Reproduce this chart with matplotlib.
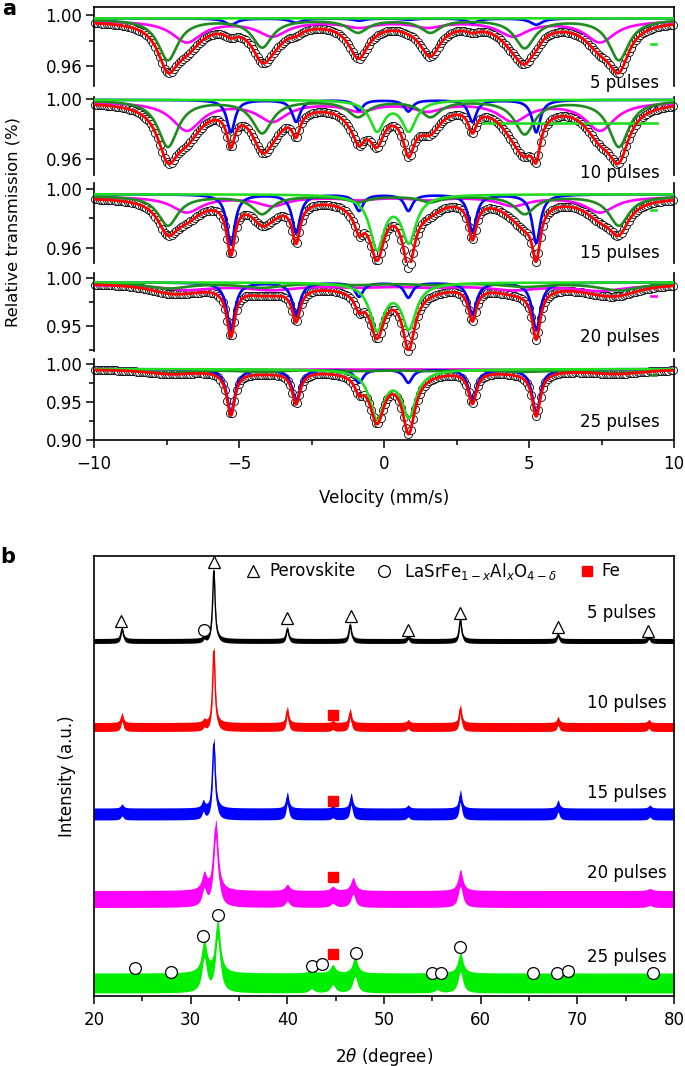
"""
plot.py

Moessbauer spectra (a) and XRD patterns (b) after different pulse counts.
"""

import matplotlib
matplotlib.use("Agg")
import matplotlib.pyplot as plt
import numpy as np

plt.rcParams["font.family"] = ["DejaVu Sans"]
plt.rcParams["mathtext.fontset"] = "dejavusans"

FS = 12

# ---------------- panel a: line positions / depths ----------
PULSES = ["5 pulses", "10 pulses", "15 pulses", "20 pulses", "25 pulses"]

# sextet / doublet line positions (mm/s)
DG_POS = [-7.45, -4.2, -0.9, 1.6, 4.85, 8.1]      # dark green sextet
MG_POS = [-6.8, -3.85, -0.85, 1.5, 4.45, 7.45]    # magenta sextet
BL_POS = [-5.28, -3.03, -0.86, 0.84, 3.05, 5.25]  # blue sextet (alpha-Fe)
LG_POS = [-0.24, 0.86]                            # light green doublet
EX_POS = [-0.86, 1.6]                             # extra absorption in total fit

# line depths per spectrum
DG_DEPTH = [
    [0.032, 0.0217, 0.010, 0.010, 0.0223, 0.032],
    [0.031, 0.0216, 0.0107, 0.0107, 0.0223, 0.031],
    [0.020, 0.012, 0.004, 0.004, 0.012, 0.020],
    [0.006, 0.005, 0.002, 0.002, 0.004, 0.008],
    [0.005, 0.003, 0.002, 0.002, 0.003, 0.005],
]
MG_DEPTH = [
    [0.0166, 0.0116, 0.0046, 0.0046, 0.0116, 0.0166],
    [0.0188, 0.0124, 0.0055, 0.0055, 0.0124, 0.0188],
    [0.0105, 0.006, 0.002, 0.002, 0.006, 0.0105],
    [0.005, 0.005, 0.002, 0.002, 0.005, 0.006],
    [0.001, 0.001, 0.0005, 0.0005, 0.001, 0.001],
]
BL_DEPTH = [
    [0.005, 0.0034, 0.0018, 0.001, 0.0034, 0.005],
    [0.0216, 0.0146, 0.0067, 0.0076, 0.0146, 0.0216],
    [0.034, 0.026, 0.011, 0.011, 0.025, 0.033],
    [0.049, 0.033, 0.0145, 0.0155, 0.0335, 0.0495],
    [0.0574, 0.042, 0.0176, 0.0176, 0.0414, 0.0574],
]
LG_DEPTH = [[0.0, 0.0], [0.020, 0.020], [0.036, 0.031], [0.048, 0.046], [0.0634, 0.0604]]
EX_DEPTH = [[0.011, 0.011], [0.0, 0.0], [0.0, 0.0], [0.0, 0.0], [0.0, 0.0]]

# half widths (mm/s)
DG_HW = [0.42, 0.42, 0.42, 0.9, 1.0]
MG_HW = [0.62, 0.62, 0.62, 1.0, 1.0]
BL_HW = [0.25, 0.17, 0.17, 0.17, 0.17]
LG_HW = [0.3, 0.3, 0.3, 0.3, 0.3]

# baselines
BASE_TOT = [0.9955, 0.9984, 0.9941, 0.9948, 0.9934]
BASE_DG = [0.9969, 0.9996, 0.9952, 0.9955, 0.9934]
BASE_MG = [0.9956, 0.9984, 0.9947, 0.9931, 0.9934]
BASE_BL = [0.9974, 0.9996, 0.9963, 0.9955, 0.9934]
BASE_LG = [0.9974, 0.9996, 0.9963, 0.9955, 0.9934]

# little dashes at the right edge (x0, x1, y, colour)
DASH = [
    (9.22, 9.38, 0.977, "#22dd22"),
    (3.40, 9.41, 0.984, "#22dd22"),
    (9.22, 9.38, 0.9856, "#22dd22"),
    (9.22, 9.38, 0.9814, "#ff00ff"),
    (9.22, 9.38, 0.9859, "#1e8c1e"),
]

YLIMS = [(0.9443, 1.0063), (0.9495, 1.0015), (0.9498, 1.0039), (0.9244, 1.0052), (0.90, 1.0066)]
YMAJOR = [[0.96, 1.00], [0.96, 1.00], [0.96, 1.00], [0.95, 1.00], [0.90, 0.95, 1.00]]
YMINOR = [[0.98], [0.98], [0.98], [0.925, 0.975], [0.925, 0.975]]

# ---------------- panel b: XRD peaks (2theta, height) ----------------
XRD_NAMES = ["5 pulses", "10 pulses", "15 pulses", "20 pulses", "25 pulses"]
XRD_COLORS = ["black", "#ff0000", "#0000ff", "#ff00ff", "#00ee00"]
XRD_BASE = [355, 269, 182, 97, 13]
XRD_NOISE = [2.5, 4.5, 6, 8.5, 10]
XRD_PEAKS = [
    [(22.9, 12), (31.4, 3), (32.4, 70), (40.0, 12), (46.5, 16), (52.5, 4), (57.9, 21), (68.0, 6), (77.4, 4)],
    [(22.9, 10), (31.4, 3), (32.4, 76), (40.0, 16), (44.7, 2), (46.5, 14), (52.5, 3), (57.9, 18), (68.0, 6), (77.4, 3)],
    [(22.9, 4), (31.3, 7), (32.4, 70), (40.0, 16), (44.7, 2), (46.6, 15), (52.5, 3), (57.9, 18), (68.0, 8), (77.5, 3)],
    [(31.4, 16), (32.6, 70), (40.0, 6), (44.7, 4), (46.8, 13), (57.9, 21), (77.5, 2)],
    [(31.4, 33), (32.8, 53), (42.5, 4), (44.7, 8), (47.0, 16), (55.5, 3), (57.9, 21)],
]
XRD_HW = [0.15, 0.15, 0.17, 0.28, 0.3]

TRI_X = [22.8, 32.4, 40.0, 46.6, 52.5, 57.9, 68.0, 77.3]
TRI_Y = [375, 434, 378, 380, 366, 383, 369, 365]
CIRC_X = [31.4, 24.2, 28.0, 31.3, 32.8, 42.6, 43.6, 47.1, 55.0, 55.9, 57.9, 65.4, 67.9, 69.0, 77.8]
CIRC_Y = [366, 28, 24, 60, 81, 30, 32, 43, 23, 23, 49, 23, 23, 25, 23]
FE_X = [44.7, 44.7, 44.7, 44.7]
FE_Y = [281, 195, 119, 42]
XRD_LABEL_X = [78.2, 79.2, 79.2, 79.2, 79.2]
XRD_LABEL_Y = [383, 293, 203, 123, 39]

W, H = 685, 1066


def rect(left, top, right, bottom):
    return [left / W, 1 - bottom / H, (right - left) / W, (bottom - top) / H]


def lorentz_dip(v, pos, depth, hw):
    out = np.zeros_like(v)
    for p, d in zip(pos, depth):
        out += d * hw ** 2 / ((v - p) ** 2 + hw ** 2)
    return out


fig = plt.figure(figsize=(6.85, 10.66), dpi=100)

# ---------------- panel a ----------------
AX_TOP = [7, 97, 183, 273, 359]
AX_BOT = [86, 175, 263, 351, 440]
LABEL_PX = [83, 173, 253, 337, 422]

v = np.linspace(-10, 10, 1201)
v_pts = np.arange(-9.96, 10.0, 0.08)

for i in range(5):
    ax = fig.add_axes(rect(94, AX_TOP[i], 674, AX_BOT[i]))
    dg = lorentz_dip(v, DG_POS, DG_DEPTH[i], DG_HW[i])
    mg = lorentz_dip(v, MG_POS, MG_DEPTH[i], MG_HW[i])
    bl = lorentz_dip(v, BL_POS, BL_DEPTH[i], BL_HW[i])
    lg = lorentz_dip(v, LG_POS, LG_DEPTH[i], LG_HW[i])
    ex = lorentz_dip(v, EX_POS, EX_DEPTH[i], 0.4)
    total = BASE_TOT[i] - dg - mg - bl - lg - ex
    pts = np.interp(v_pts, v, total)

    ax.plot(v_pts, pts, "o", ms=5.8, mfc="white", mec="black", mew=0.6, zorder=2, clip_on=False)
    ax.plot(v, BASE_MG[i] - mg, color="#ff00ff", lw=1.9, zorder=3)
    ax.plot(v, BASE_BL[i] - bl, color="#0000ff", lw=1.9, zorder=3)
    ax.plot(v, BASE_DG[i] - dg, color="#1e8c1e", lw=1.9, zorder=3)
    ax.plot(v, BASE_LG[i] - lg, color="#22dd22", lw=1.9, zorder=3)
    ax.plot(v, total, color="#ff0000", lw=2.0, zorder=4)
    x0, x1, yd, cd = DASH[i]
    ax.plot([x0, x1], [yd, yd], color=cd, lw=1.9, zorder=3)

    ax.set_xlim(-10, 10)
    ax.set_ylim(*YLIMS[i])
    ax.set_yticks(YMAJOR[i])
    ax.set_yticks(YMINOR[i], minor=True)
    ax.set_yticklabels([f"{t:.2f}" for t in YMAJOR[i]])
    ax.tick_params(axis="y", which="major", direction="out", length=6, width=1.1, labelsize=FS, pad=2.5)
    ax.tick_params(axis="y", which="minor", direction="out", length=3.5, width=1.1)
    for s in ax.spines.values():
        s.set_linewidth(1.2)
    if i > 0:
        ax.spines["top"].set_visible(False)
    frac = (AX_BOT[i] - LABEL_PX[i]) / (AX_BOT[i] - AX_TOP[i])
    ax.text(0.975, frac, PULSES[i], transform=ax.transAxes, ha="right", va="center", fontsize=FS, zorder=6)
    if i < 4:
        ax.spines["bottom"].set_visible(False)
        ax.set_xticks([])
    else:
        ax.set_xticks([-10, -5, 0, 5, 10])
        ax.set_xticks([-7.5, -2.5, 2.5, 7.5], minor=True)
        ax.set_xticklabels(["\u221210", "\u22125", "0", "5", "10"])
        ax.tick_params(axis="x", which="major", direction="out", length=6, width=1.1, labelsize=FS, pad=5)
        ax.tick_params(axis="x", which="minor", direction="out", length=3.5, width=1.1)

fig.text(384 / W, 1 - 498 / H, "Velocity (mm/s)", ha="center", va="center", fontsize=FS)
fig.text(13 / W, 1 - 222 / H, "Relative transmission (%)", rotation=90, ha="center", va="center", fontsize=11.8)
fig.text(9 / W, 1 - 9 / H, "a", fontsize=15, fontweight="bold", ha="center", va="center")

# ---------------- panel b ----------------
axb = fig.add_axes(rect(94, 556, 674, 996))
tt = np.linspace(20, 80, 3001)
for i in range(5):
    y = np.full_like(tt, float(XRD_BASE[i]))
    for pos, hgt in XRD_PEAKS[i]:
        y += hgt * XRD_HW[i] ** 2 / ((tt - pos) ** 2 + XRD_HW[i] ** 2)
    axb.fill_between(tt, y - XRD_NOISE[i], y + XRD_NOISE[i], color=XRD_COLORS[i], lw=0, zorder=2)
    axb.plot(tt, y, color=XRD_COLORS[i], lw=1.0, zorder=2)
    axb.text(XRD_LABEL_X[i], XRD_LABEL_Y[i], XRD_NAMES[i], ha="right", va="center", fontsize=FS)

axb.plot(TRI_X, TRI_Y, "^", ms=9, mfc="white", mec="black", mew=0.9, ls="none", zorder=4)
axb.plot(CIRC_X, CIRC_Y, "o", ms=8.5, mfc="white", mec="black", mew=0.9, ls="none", zorder=4)
axb.plot(FE_X, FE_Y, "s", ms=7.5, color="#ff0000", ls="none", zorder=4)

# legend row
axb.plot([36.4], [425], "^", ms=9, mfc="white", mec="black", mew=0.9)
axb.text(38.1, 425, "Perovskite", va="center", ha="left", fontsize=FS)
axb.plot([50.0], [425], "o", ms=8.5, mfc="white", mec="black", mew=0.9)
axb.text(52.1, 425, r"LaSrFe$_{1-x}$Al$_{x}$O$_{4-\delta}$", va="center", ha="left", fontsize=FS)
axb.plot([71.0], [425], "s", ms=7.5, color="#ff0000")
axb.text(72.5, 425, "Fe", va="center", ha="left", fontsize=FS)

axb.set_xlim(20, 80)
axb.set_ylim(0, 440)
axb.set_yticks([])
axb.set_xticks([20, 30, 40, 50, 60, 70, 80])
axb.set_xticks([25, 35, 45, 55, 65, 75], minor=True)
axb.tick_params(axis="x", which="major", direction="out", length=6, width=1.1, labelsize=FS, pad=5)
axb.tick_params(axis="x", which="minor", direction="out", length=3.5, width=1.1)
for s in axb.spines.values():
    s.set_linewidth(1.2)
axb.set_ylabel("Intensity (a.u.)", fontsize=12, labelpad=13)
axb.set_xlabel(r"2$\theta$ (degree)", fontsize=FS, labelpad=12)
fig.text(8 / W, 1 - 557 / H, "b", fontsize=15, fontweight="bold", ha="center", va="center")

fig.savefig("out.png", dpi=100)
